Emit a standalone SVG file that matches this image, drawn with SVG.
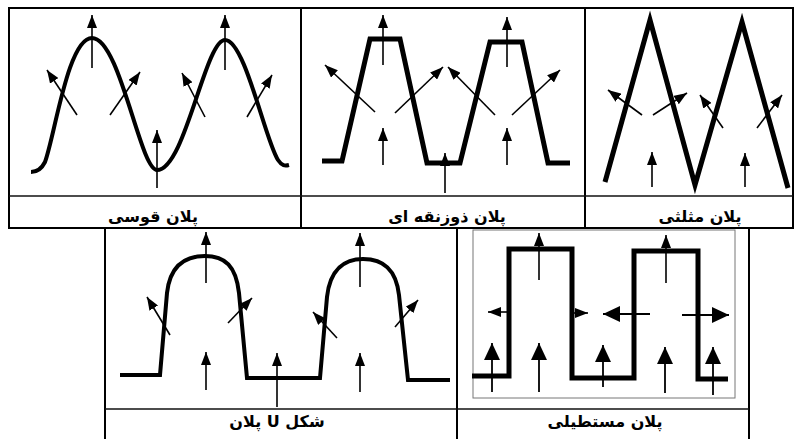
<svg xmlns="http://www.w3.org/2000/svg" width="795" height="439" viewBox="0 0 795 439">
<style>
.frame{fill:none;stroke:#000;stroke-width:2}
.div{fill:none;stroke:#111;stroke-width:1.6}
.plan{fill:none;stroke:#000;stroke-width:4;stroke-linejoin:miter}
.arr{stroke:#000;stroke-width:1.6;marker-end:url(#ah)}
.arrb{stroke:#000;stroke-width:1.8;marker-end:url(#ahb)}
.lbl{font-family:"DejaVu Sans","Noto Sans",sans-serif;font-weight:bold;font-size:16px;text-anchor:middle;fill:#000}
</style>
<defs>
<marker id="ah" markerUnits="userSpaceOnUse" markerWidth="13" markerHeight="10" refX="13" refY="5" orient="auto"><path d="M0,0 L13,5 L0,10 z" fill="#000"/></marker>
<marker id="ahb" markerUnits="userSpaceOnUse" markerWidth="17" markerHeight="16" refX="17" refY="8" orient="auto"><path d="M0,0 L17,8 L0,16 z" fill="#000"/></marker>
</defs>
<rect width="795" height="439" fill="#fff"/>

<g id="frames">
<rect class="frame" x="9" y="8" width="784" height="220"/>
<line class="frame" x1="301" y1="8" x2="301" y2="228"/>
<line class="frame" x1="585" y1="8" x2="585" y2="228"/>
<line class="div" x1="9" y1="196" x2="793" y2="196"/>
<line class="frame" x1="105" y1="228" x2="105" y2="439"/>
<line class="frame" x1="457" y1="228" x2="457" y2="439"/>
<line class="frame" x1="749" y1="228" x2="749" y2="439"/>
<line class="div" x1="105" y1="409" x2="749" y2="409"/>
</g>

<g id="panel-arc">
<path class="plan" d="M31,172 C38,172 42,168 45,162 C55,135 68,38 92,38 C120,38 140,170 157,170 C185,170 205,40 225,40 C245,40 265,140 278,160 C282,166 285,166 289,165"/>
<g class="arrows">
<line class="arr" x1="92" y1="68" x2="92" y2="15"/>
<line class="arr" x1="225" y1="70" x2="225" y2="15"/>
<line class="arr" x1="157" y1="188" x2="157" y2="130"/>
<line class="arr" x1="77" y1="115" x2="47" y2="70"/>
<line class="arr" x1="110" y1="115" x2="140" y2="72"/>
<line class="arr" x1="205" y1="117" x2="182" y2="73"/>
<line class="arr" x1="247" y1="117" x2="272" y2="75"/>
</g>
<text class="lbl" x="153" y="222">پلان قوسی</text>
</g>

<g id="panel-trapezoid">
<polyline class="plan" style="stroke-width:5" points="322,161 342,161 370,39 400,39 427,163 460,163 490,42 522,42 548,163 570,163"/>
<g class="arrows">
<line class="arr" x1="383" y1="65" x2="383" y2="15"/>
<line class="arr" x1="507" y1="67" x2="507" y2="17"/>
<line class="arr" x1="383" y1="165" x2="383" y2="128"/>
<line class="arr" x1="507" y1="165" x2="507" y2="128"/>
<line class="arr" x1="445" y1="193" x2="445" y2="153"/>
<line class="arr" x1="375" y1="112" x2="325" y2="65"/>
<line class="arr" x1="395" y1="113" x2="443" y2="67"/>
<line class="arr" x1="495" y1="115" x2="448" y2="67"/>
<line class="arr" x1="512" y1="115" x2="560" y2="70"/>
</g>
<text class="lbl" x="447" y="222">پلان ذوزنقه ای</text>
</g>

<g id="panel-triangle">
<polyline class="plan" style="stroke-width:5" points="605,182 650,20 695,185 742,22 788,188"/>
<g class="arrows">
<line class="arr" x1="642" y1="115" x2="608" y2="90"/>
<line class="arr" x1="653" y1="115" x2="687" y2="93"/>
<line class="arr" x1="723" y1="128" x2="700" y2="95"/>
<line class="arr" x1="757" y1="128" x2="782" y2="95"/>
<line class="arr" x1="652" y1="187" x2="652" y2="152"/>
<line class="arr" x1="745" y1="187" x2="745" y2="153"/>
</g>
<text class="lbl" x="700" y="222">پلان مثلثی</text>
</g>

<g id="panel-u">
<path class="plan" d="M120,375 L160,375 L167,293 C170,266 185,256 205,256 C225,256 236,266 239,293 L247,378 L320,378 L327,297 C330,269 345,259 363,259 C383,259 396,269 399,295 L408,380 L450,380"/>
<g class="arrows">
<line class="arr" x1="206" y1="283" x2="206" y2="232"/>
<line class="arr" x1="360" y1="287" x2="360" y2="233"/>
<line class="arr" x1="206" y1="390" x2="206" y2="352"/>
<line class="arr" x1="360" y1="392" x2="360" y2="353"/>
<line class="arr" x1="277" y1="407" x2="277" y2="353"/>
<line class="arr" x1="170" y1="335" x2="147" y2="297"/>
<line class="arr" x1="228" y1="323" x2="252" y2="298"/>
<line class="arr" x1="337" y1="338" x2="313" y2="312"/>
<line class="arr" x1="395" y1="327" x2="418" y2="300"/>
</g>
<text class="lbl" x="277" y="427">پلان U شکل</text>
</g>

<g id="panel-rect">
<rect x="473" y="230" width="262" height="168" fill="none" stroke="#777" stroke-width="1"/>
<polyline class="plan" style="stroke-width:5" points="472,376 509,376 509,249 572,249 572,378 634,378 634,251 698,251 698,379 728,379"/>
<g class="arrows">
<line class="arr" x1="539" y1="280" x2="539" y2="233"/>
<line class="arr" x1="666" y1="283" x2="666" y2="235"/>
<line class="arr" x1="510" y1="312" x2="488" y2="312"/>
<line class="arr" x1="572" y1="313" x2="588" y2="313"/>
<line class="arrb" x1="650" y1="314" x2="603" y2="314"/>
<line class="arrb" x1="682" y1="315" x2="729" y2="315"/>
<line class="arrb" x1="492" y1="392" x2="492" y2="343"/>
<line class="arrb" x1="539" y1="392" x2="539" y2="343"/>
<line class="arrb" x1="603" y1="387" x2="603" y2="345"/>
<line class="arrb" x1="665" y1="393" x2="665" y2="347"/>
<line class="arrb" x1="713" y1="395" x2="713" y2="347"/>
</g>
<text class="lbl" x="605" y="427">پلان مستطیلی</text>
</g>
</svg>
